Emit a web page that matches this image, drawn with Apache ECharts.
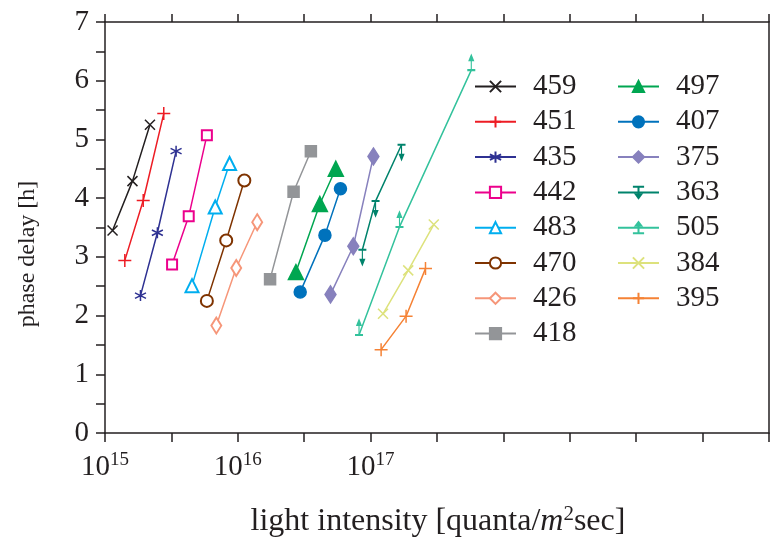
<!DOCTYPE html>
<html>
<head>
<meta charset="utf-8">
<script src="https://cdn.jsdelivr.net/npm/echarts@6/dist/echarts.min.js"></script>
<style>
  html, body { margin: 0; padding: 0; background: #fff; }
  #chart { width: 772px; height: 539px; }
</style>
</head>
<body>
<div id="chart"></div>
<script>
// light intensity (quanta/m^2 sec) and phase delay (h)
const names = ['459', '451', '435', '442', '483', '470', '426', '418',
  '497', '407', '375', '363', '505', '384', '395']
const intensity = {
  459: [1.14e15, 1.61e15, 2.18e15],
  451: [1.41e15, 1.94e15, 2.77e15],
  435: [1.85e15, 2.48e15, 3.43e15],
  442: [3.20e15, 4.27e15, 5.85e15],
  483: [4.52e15, 6.76e15, 8.67e15],
  470: [5.85e15, 8.18e15, 1.12e16],
  426: [6.89e15, 9.73e15, 1.40e16],
  418: [1.75e16, 2.63e16, 3.55e16],
  497: [2.74e16, 4.15e16, 5.47e16],
  407: [2.95e16, 4.53e16, 5.93e16],
  375: [4.99e16, 7.41e16, 1.05e17],
  363: [8.67e16, 1.09e17, 1.71e17],
  505: [8.18e16, 1.65e17, 5.73e17],
  384: [1.24e17, 1.92e17, 2.99e17],
  395: [1.20e17, 1.85e17, 2.59e17]
}
const delay = {
  459: [3.45, 4.29, 5.25],
  451: [2.94, 3.96, 5.44],
  435: [2.34, 3.41, 4.80],
  442: [2.87, 3.69, 5.07],
  483: [2.51, 3.85, 4.59],
  470: [2.25, 3.28, 4.30],
  426: [1.83, 2.81, 3.59],
  418: [2.62, 4.11, 4.80],
  497: [2.74, 3.90, 4.50],
  407: [2.40, 3.37, 4.16],
  375: [2.36, 3.18, 4.71],
  363: [3.12, 3.95, 4.91],
  505: [1.67, 3.51, 6.18],
  384: [2.03, 2.77, 3.55],
  395: [1.42, 1.99, 2.80]
}
const xTickLabels = [15, 16, 17]

const colors = {
  459: '#231f20', 451: '#ed1c24', 435: '#2e3192', 442: '#ec008c',
  483: '#00aeef', 470: '#7f3300', 426: '#f69679', 418: '#939598',
  497: '#00a651', 407: '#0072bc', 375: '#8781bd', 363: '#00836c',
  505: '#33c29c', 384: '#dde27c', 395: '#f58235'
}
const CROSS = 'path://M0,0L10,10M10,0L0,10'
const PLUS = 'path://M5,0L5,10M0,5L10,5'
const STAR = 'path://M5,0L5,10M0.67,2.5L9.33,7.5M0.67,7.5L9.33,2.5'
const DOWN = 'path://M0,0L8,0M4,0L4,12M2,10L4,15L6,10Z'
const UP = 'path://M0,15L8,15M4,15L4,3M2,5L4,0L6,5Z'
const markers = {
  459: [CROSS, 10], 451: [PLUS, 13], 435: [STAR, 11], 442: ['emptyRect', 10],
  483: ['emptyTriangle', 13], 470: ['emptyCircle', 12], 426: ['emptyDiamond', [10, 16]],
  418: ['rect', 11], 497: ['triangle', 15], 407: ['circle', 12], 375: ['diamond', [11, 17]],
  363: [DOWN, [8, 15]], 505: [UP, [8, 15]], 384: [CROSS, 10], 395: [PLUS, 13]
}
const FONT = 'Liberation Serif'
const INK = '#231f20'

const series = names.map((n, k) => {
  const m = markers[n]
  const s = {
    name: n,
    type: 'line',
    data: intensity[n].map((v, i) => [Math.log10(v), delay[n][i]]),
    symbol: m[0],
    symbolSize: m[1],
    showAllSymbol: true,
    lineStyle: { color: colors[n], width: 1.5 },
    itemStyle: { color: colors[n], borderColor: colors[n], borderWidth: 1.5 },
    emphasis: { disabled: true },
    animation: false
  }
  if (n === '363') s.symbolOffset = [0, 7.5]
  if (n === '505') s.symbolOffset = [0, -7.5]
  // the top/right frame axes have the same ranges; give them data so they draw ticks
  if (k === names.length - 1) { s.xAxisIndex = 1; s.yAxisIndex = 1 }
  return s
})

const legendBase = {
  orient: 'vertical',
  top: 67,
  itemWidth: 41,
  itemHeight: 14,
  itemGap: 6.3,
  textStyle: { fontFamily: FONT, fontSize: 29, color: INK, padding: [0, 0, 0, 12] },
  selectedMode: false
}

const chart = echarts.init(document.getElementById('chart'))
chart.setOption({
  animation: false,
  grid: { left: 105, top: 22, right: 1, bottom: 106, containLabel: false },
  legend: [
    Object.assign({}, legendBase, { left: 469, data: names.slice(0, 8) }),
    Object.assign({}, legendBase, { left: 612, data: names.slice(8) })
  ],
  xAxis: [
    {
      type: 'value', min: 15, max: 20, interval: 0.5, position: 'bottom',
      axisLine: { show: true, onZero: false, lineStyle: { color: INK, width: 1.5 } },
      axisTick: { show: true, inside: false, length: 9, lineStyle: { color: INK, width: 1.5 } },
      splitLine: { show: false },
      axisLabel: {
        margin: 18,
        formatter: (v) => xTickLabels.includes(v) ? '{b|10}{s|' + v + '}' : '',
        rich: {
          b: { fontFamily: FONT, fontSize: 29, color: INK, verticalAlign: 'bottom' },
          s: { fontFamily: FONT, fontSize: 19, color: INK, verticalAlign: 'bottom', padding: [0, 0, 12, 0] }
        }
      }
    },
    {
      // top frame with its own ticks
      type: 'value', min: 15, max: 20, interval: 0.5, position: 'top',
      axisLine: { show: true, onZero: false, lineStyle: { color: INK, width: 1.5 } },
      axisTick: { show: true, inside: false, length: 8, lineStyle: { color: INK, width: 1.5 } },
      axisLabel: { show: false },
      splitLine: { show: false }
    }
  ],
  yAxis: [
    {
      type: 'value', min: 0, max: 7, interval: 0.5, position: 'left',
      axisLine: { show: true, onZero: false, lineStyle: { color: INK, width: 1.5 } },
      axisTick: { show: true, inside: false, length: 9, lineStyle: { color: INK, width: 1.5 } },
      splitLine: { show: false },
      axisLabel: {
        margin: 16,
        fontFamily: FONT, fontSize: 29, color: INK,
        formatter: (v) => Number.isInteger(v) ? String(v) : ''
      }
    },
    {
      type: 'value', min: 0, max: 7, interval: 0.5, position: 'right',
      axisLine: { show: true, onZero: false, lineStyle: { color: INK, width: 1.5 } },
      axisTick: { show: false },
      axisLabel: { show: false },
      splitLine: { show: false }
    }
  ],
  graphic: [
    {
      type: 'text', x: 28, y: 254, rotation: Math.PI / 2,
      style: {
        text: 'phase delay [h]', fontFamily: FONT, fontSize: 24, fill: INK,
        align: 'center', verticalAlign: 'middle'
      }
    },
    {
      type: 'text', x: 438, y: 521,
      style: {
        text: '{a|light intensity [quanta/}{i|m}{s|2}{a|sec]}',
        align: 'center', verticalAlign: 'middle',
        rich: {
          a: { fontFamily: FONT, fontSize: 32, fill: INK, verticalAlign: 'bottom' },
          i: { fontFamily: FONT, fontSize: 32, fontStyle: 'italic', fill: INK, verticalAlign: 'bottom' },
          s: { fontFamily: FONT, fontSize: 21, fill: INK, verticalAlign: 'bottom', padding: [0, 0, 13, 0] }
        }
      }
    }
  ],
  series: series
})
</script>
</body>
</html>
